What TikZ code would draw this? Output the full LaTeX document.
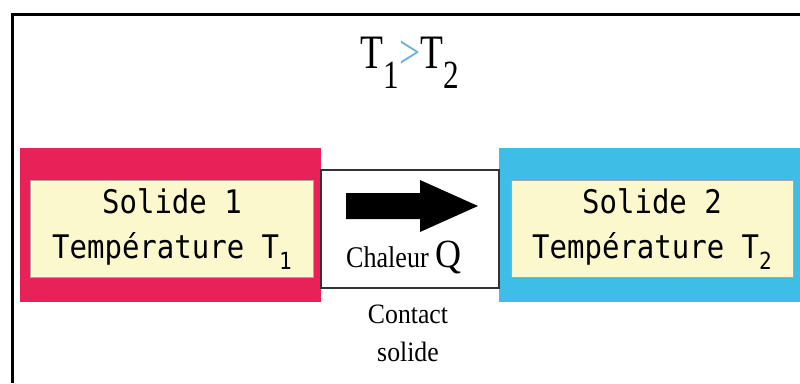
\documentclass[tikz,border=0pt]{standalone}
\usepackage{fontspec}
\setmainfont{Liberation Serif}
\setmonofont{DejaVu Sans Mono}
\usepackage{tikz}
\usetikzlibrary{positioning,arrows.meta,calc}
\definecolor{solidred}{RGB}{232,34,88}
\definecolor{solidblue}{RGB}{62,190,230}
\definecolor{labelyellow}{RGB}{252,248,206}
\definecolor{gtblue}{RGB}{110,175,215}
\newcommand{\tall}[1]{\scalebox{1}[1.12]{#1}}
\newcommand{\lowsub}[2]{\raisebox{#1}{#2}}
\tikzset{
  frame/.style={line width=3pt,black},
  solidbox/.style={minimum width=301pt,minimum height=154pt,inner sep=0pt},
  labelbox/.style={fill=labelyellow,draw=black!35,line width=0.5pt,
    minimum width=283pt,minimum height=97pt,inner sep=0pt},
  labeltxt/.style={anchor=base,inner sep=0pt,
    font=\ttfamily\fontsize{29}{34}\selectfont},
  contactbox/.style={draw=black!80,line width=1.2pt,fill=white,
    minimum width=178pt,minimum height=118pt,inner sep=0pt},
  heatarrow/.style={fill=black},
  seriftxt/.style={anchor=base,inner sep=0pt,font=\fontsize{28}{33}\selectfont},
}
\begin{document}
\begin{tikzpicture}[x=1pt,y=-1pt]
  \useasboundingbox (0,0) rectangle (800,383);
  \fill[white] (0,0) rectangle (800,383);
  % frame
  \draw[frame] (12,383) -- (12,14) -- (800,14);
  % title
  \node[anchor=base,inner sep=0pt,font=\fontsize{48}{50}\selectfont] (cond) at (410,68)
    {\scalebox{0.78}[1]{T\lowsub{-20pt}{\fontsize{40}{42}\selectfont 1}%
     \textcolor{gtblue}{>}T\lowsub{-20pt}{\fontsize{40}{42}\selectfont 2}}};
  % the two solids
  \node[solidbox,fill=solidred]  (s1) at (170.5,225) {};
  \node[solidbox,fill=solidblue,minimum width=310pt] (s2) at (654,225) {};
  \node[labelbox] (l1) at (171.5,228.5) {};
  \node[labelbox,minimum width=282pt] (l2) at (652,228.5) {};
  \node[labeltxt] (n1) at (172,213) {\tall{Solide 1}};
  \node[labeltxt] (t1) at (172,258)
    {\tall{Température T\lowsub{-10pt}{\fontsize{21}{24}\selectfont 1}}};
  \node[labeltxt] (n2) at (652,213) {\tall{Solide 2}};
  \node[labeltxt] (t2) at (652,258)
    {\tall{Température T\lowsub{-10pt}{\fontsize{21}{24}\selectfont 2}}};
  % contact zone
  \node[contactbox] (cz) at (410,229) {};
  \fill[heatarrow] (346,193) -- (420,193) -- (420,180) -- (478,206)
    -- (420,232) -- (420,219) -- (346,219) -- cycle;
  \node[seriftxt] (q) at (404,267)
    {\scalebox{0.87}[1]{\fontsize{30}{32}\selectfont Chaleur}
     {\fontsize{40}{44}\selectfont\scalebox{0.9}[1]{Q}}};
  \node[seriftxt] (ct1) at (408,323) {\scalebox{0.92}[1]{Contact}};
  \node[seriftxt] (ct2) at (408,361) {\scalebox{0.92}[1]{solide}};
\end{tikzpicture}
\end{document}
